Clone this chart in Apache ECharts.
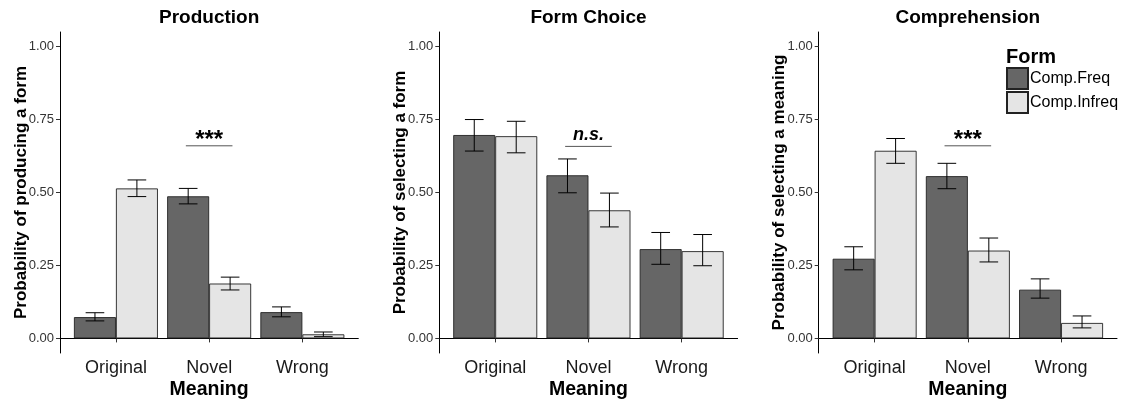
<!DOCTYPE html>
<html>
<head>
<meta charset="utf-8">
<script src="https://cdn.jsdelivr.net/npm/echarts@6/dist/echarts.min.js"></script>
<style>html,body{margin:0;padding:0;background:#fff}#c{width:1125px;height:400px}</style>
</head>
<body>
<div id="c"></div>
<script>
const categories = ['Original', 'Novel', 'Wrong'];
const yTicks = [0, 0.25, 0.5, 0.75, 1];
const panelTitles = ['Production', 'Form Choice', 'Comprehension'];
const yTitles = ['Probability of producing a form', 'Probability of selecting a form', 'Probability of selecting a meaning'];
const formNames = ['Comp.Freq', 'Comp.Infreq'];
const sigLabels = ['***', 'n.s.', '***'];
const sigLevel = [0.66, 0.658, 0.66];

// Production
const prodFreq = [0.073, 0.487, 0.090];
const prodFreqLow = [0.060, 0.461, 0.074];
const prodFreqHigh = [0.088, 0.514, 0.108];
const prodInfreq = [0.514, 0.188, 0.014];
const prodInfreqLow = [0.486, 0.166, 0.006];
const prodInfreqHigh = [0.543, 0.210, 0.022];

// Form Choice
const choiceFreq = [0.697, 0.559, 0.306];
const choiceFreqLow = [0.642, 0.499, 0.254];
const choiceFreqHigh = [0.750, 0.615, 0.363];
const choiceInfreq = [0.693, 0.439, 0.299];
const choiceInfreqLow = [0.636, 0.382, 0.249];
const choiceInfreqHigh = [0.744, 0.498, 0.356];

// Comprehension
const compFreq = [0.273, 0.556, 0.167];
const compFreqLow = [0.235, 0.513, 0.138];
const compFreqHigh = [0.314, 0.600, 0.204];
const compInfreq = [0.643, 0.301, 0.053];
const compInfreqLow = [0.600, 0.262, 0.036];
const compInfreqHigh = [0.685, 0.344, 0.077];

const panelData = [
  [[prodFreq, prodFreqLow, prodFreqHigh], [prodInfreq, prodInfreqLow, prodInfreqHigh]],
  [[choiceFreq, choiceFreqLow, choiceFreqHigh], [choiceInfreq, choiceInfreqLow, choiceInfreqHigh]],
  [[compFreq, compFreqLow, compFreqHigh], [compInfreq, compInfreqLow, compInfreqHigh]]
];

const FONT = 'Liberation Sans, Arial, Helvetica, sans-serif';
const fillColors = ['#666666', '#e5e5e5'];
const gridLefts = [60, 439.3, 818.7];
const gridWidth = 298.3;
const dodge = 0.225;

const grids = [], xAxes = [], yAxes = [], series = [], titles = [];
for (let p = 0; p < 3; p++) {
  grids.push({ left: gridLefts[p], top: 32, width: gridWidth, height: 321, containLabel: false, outerBoundsMode: 'none' });
  xAxes.push({
    type: 'value', gridIndex: p, min: 0.4, max: 3.6,
    name: 'Meaning', nameLocation: 'middle', nameGap: 26.5, nameMoveOverlap: false,
    nameTextStyle: { fontFamily: FONT, fontSize: 19.5, fontWeight: 'bold', color: '#000' },
    axisLine: { show: true, lineStyle: { color: '#000', width: 1 } },
    axisTick: { show: true, length: 4, customValues: [1, 2, 3], lineStyle: { color: '#333' } },
    axisLabel: { customValues: [1, 2, 3], margin: 6, fontFamily: FONT, fontSize: 18, color: '#1a1a1a',
      formatter: v => categories[Math.round(v) - 1] },
    splitLine: { show: false }
  });
  yAxes.push({
    type: 'value', gridIndex: p, min: -0.05, max: 1.05,
    name: yTitles[p], nameLocation: 'middle', nameGap: 30.5, nameMoveOverlap: false,
    nameTextStyle: { fontFamily: FONT, fontSize: 17, fontWeight: 'bold', color: '#000' },
    axisLine: { show: true, lineStyle: { color: '#000', width: 1 } },
    axisTick: { show: true, length: 4, customValues: yTicks, lineStyle: { color: '#333' } },
    axisLabel: { customValues: yTicks, margin: 6, fontFamily: FONT, fontSize: 13, color: '#333',
      formatter: v => v.toFixed(2) },
    splitLine: { show: false }
  });
  titles.push({
    text: panelTitles[p], left: gridLefts[p] + gridWidth / 2, top: 8, textAlign: 'center', padding: 0,
    textStyle: { fontFamily: FONT, fontSize: 19, fontWeight: 'bold', color: '#000' }
  });
  for (let f = 0; f < 2; f++) {
    const [mean, lo, hi] = panelData[p][f];
    series.push({
      type: 'bar', name: formNames[f], xAxisIndex: p, yAxisIndex: p,
      barWidth: 42, barGap: '0%',
      itemStyle: { color: fillColors[f], borderColor: '#222', borderWidth: 0.9 },
      data: mean.map((v, i) => [i + 1, v]),
      z: 2
    });
  }
  for (let f = 0; f < 2; f++) {
    const [mean, lo, hi] = panelData[p][f];
    const off = f === 0 ? -dodge : dodge;
    series.push({
      type: 'custom', xAxisIndex: p, yAxisIndex: p, z: 5, silent: true,
      data: mean.map((v, i) => [i + 1, lo[i], hi[i]]),
      renderItem: (params, api) => {
        const x = api.value(0) + off;
        const a = api.coord([x, api.value(1)]);
        const b = api.coord([x, api.value(2)]);
        const l1 = api.coord([x - 0.1, api.value(1)]);
        const r1 = api.coord([x + 0.1, api.value(1)]);
        const l2 = api.coord([x - 0.1, api.value(2)]);
        const r2 = api.coord([x + 0.1, api.value(2)]);
        const st = { stroke: '#000', lineWidth: 1 };
        return { type: 'group', children: [
          { type: 'line', shape: { x1: a[0], y1: a[1], x2: b[0], y2: b[1] }, style: st },
          { type: 'line', shape: { x1: l1[0], y1: l1[1], x2: r1[0], y2: r1[1] }, style: st },
          { type: 'line', shape: { x1: l2[0], y1: l2[1], x2: r2[0], y2: r2[1] }, style: st }
        ]};
      }
    });
  }
  series.push({
    type: 'custom', xAxisIndex: p, yAxisIndex: p, z: 5, silent: true,
    data: [[2, sigLevel[p]]],
    renderItem: (params, api) => {
      const l = api.coord([1.75, api.value(1)]);
      const r = api.coord([2.25, api.value(1)]);
      const c = api.coord([2, api.value(1)]);
      const italic = sigLabels[p] === 'n.s.';
      return { type: 'group', children: [
        { type: 'line', shape: { x1: l[0], y1: l[1], x2: r[0], y2: r[1] }, style: { stroke: '#555', lineWidth: 1 } },
        { type: 'text', x: c[0], y: italic ? l[1] - 11 : l[1] - 5, style: {
          text: sigLabels[p], fill: '#000', align: 'center', verticalAlign: 'middle',
          fontFamily: FONT, fontSize: italic ? 18 : 24, fontWeight: 'bold', fontStyle: italic ? 'italic' : 'normal' } }
      ]};
    }
  });
}
titles.push({
  text: 'Form', left: 1006, top: 47, padding: 0,
  textStyle: { fontFamily: FONT, fontSize: 20, fontWeight: 'bold', color: '#000' }
});

const chart = echarts.init(document.getElementById('c'), null, { renderer: 'canvas' });
chart.setOption({
  animation: false,
  backgroundColor: '#fff',
  title: titles,
  grid: grids,
  xAxis: xAxes,
  yAxis: yAxes,
  legend: {
    data: formNames, orient: 'vertical', left: 1006, top: 67,
    itemWidth: 21, itemHeight: 21, itemGap: 1, icon: 'rect',
    padding: 0,
    textStyle: { fontFamily: FONT, fontSize: 16, color: '#000', padding: [0, 0, 0, -3] },
    selectedMode: false
  },
  series: series
});
</script>
</body>
</html>
